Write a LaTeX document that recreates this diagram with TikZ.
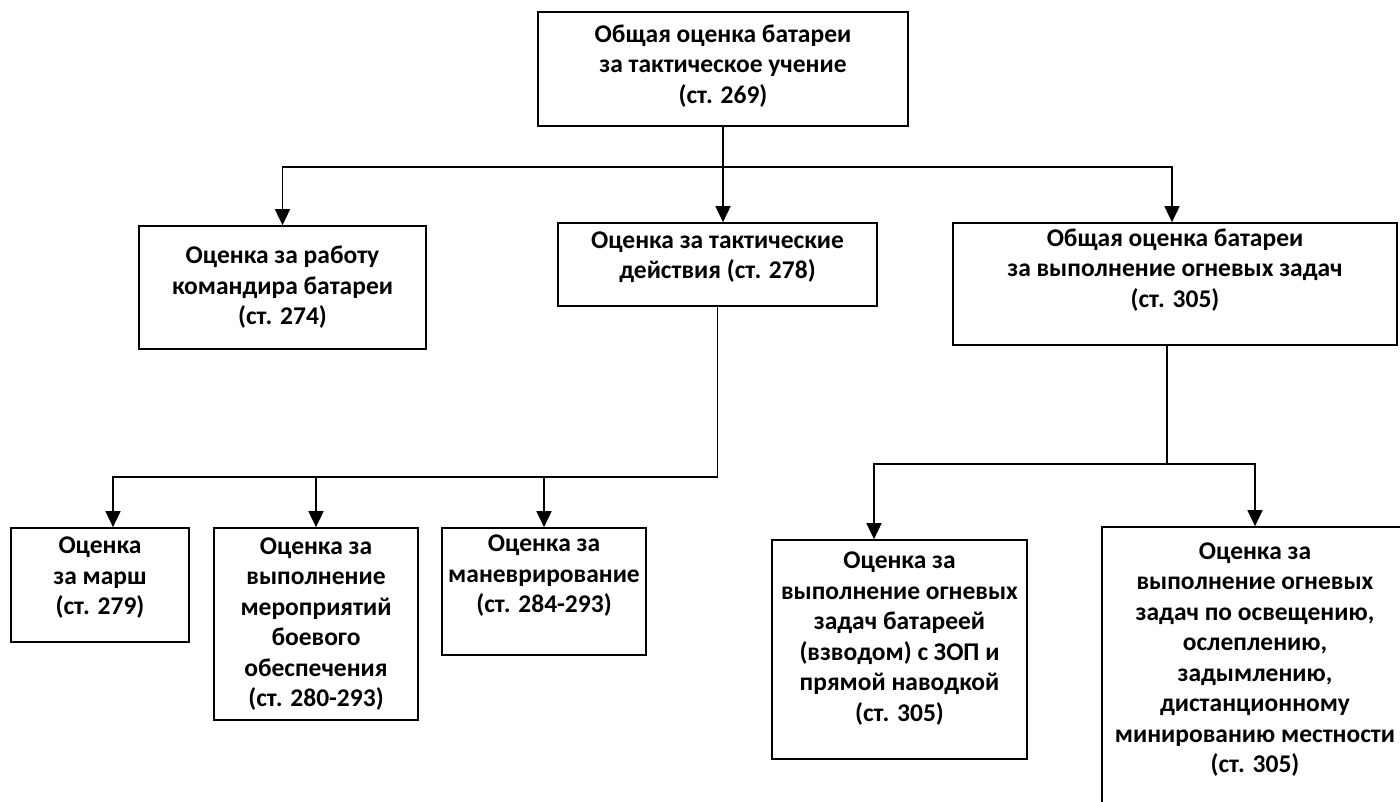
\documentclass[tikz,border=0pt]{standalone}
\usepackage{fontspec}
\setmainfont{Carlito}
\usetikzlibrary{arrows.meta}
\tikzset{
	>={Triangle[length=16pt,width=15pt]},%
	nodes={align=center},%
	box/.style={%
			draw,%
			rectangle,%
			line width=1.7pt,%
			inner sep=0pt,%
			font=\fontsize{25.5}{30.5}\selectfont\bfseries},%
	link/.style={line width=1.7pt},%
}

\begin{document}
\begin{tikzpicture}[x=1pt, y=-1pt]
	\useasboundingbox (0,0) rectangle (1400,802);

	% first level
	\node[box, minimum width=370pt, minimum height=114pt, text depth=10pt] (total) at (723,69) {Общая оценка батареи\\за тактическое учение\\(ст. 269)};

	% second level
	\node[box, minimum width=287pt, minimum height=123pt] (cmd) at (282.5,287.5) {Оценка за работу\\командира батареи\\(ст. 274)};
	\node[box, minimum width=319pt, minimum height=83pt, text depth=19pt] (tact) at (717.5,264.5) {Оценка за тактические\\действия (ст. 278)};
	\node[box, minimum width=444pt, minimum height=122pt, text depth=32pt] (fire) at (1175,284) {Общая оценка батареи\\за выполнение огневых задач\\(ст. 305)};

	% third level
	\node[box, minimum width=178pt, minimum height=114pt, text depth=18pt] (march) at (100,585) {Оценка\\за марш\\(ст. 279)};
	\node[box, minimum width=204pt, minimum height=192pt] (supp) at (316,624) {Оценка за\\выполнение\\мероприятий\\боевого\\обеспечения\\(ст. 280-293)};
	\node[box, minimum width=204pt, minimum height=127pt, text depth=35pt] (man) at (544,591.5) {Оценка за\\маневрирование\\(ст. 284-293)};
	\node[box, minimum width=255pt, minimum height=219pt, text depth=26pt] (zop) at (899.5,649.5) {Оценка за\\выполнение огневых\\задач батареей\\(взводом) с ЗОП и\\прямой наводкой\\(ст. 305)};
	\node[box, minimum width=306pt, minimum height=303pt, text depth=42pt] (light) at (1255,678.5) {Оценка за\\выполнение огневых\\задач по освещению,\\ослеплению,\\задымлению,\\дистанционному\\минированию местности\\(ст. 305)};

	\coordinate (split) at (723,167);
	\coordinate (tsplit) at (718,477);
	\coordinate (fsplit) at (1167,464);

	\draw[link, ->] (total.south) -- (total.south |- tact.north);
	\draw[link, ->] (split) -| (cmd.north);
	\draw[link, ->] (split) -| ([xshift=-3pt]fire.north);

	\draw[link] (tact.south) -- (tact.south |- tsplit);
	\draw[link, ->] (tsplit) -| ([xshift=13pt]march.north);
	\draw[link, ->] (tsplit) -| (supp.north);
	\draw[link, ->] (tsplit) -| (man.north);

	\draw[link] ([xshift=-8pt]fire.south) -- (fsplit);
	\draw[link, ->] (fsplit) -| ([xshift=-25.5pt]zop.north);
	\draw[link, ->] (fsplit) -| (light.north);
\end{tikzpicture}
\end{document}
